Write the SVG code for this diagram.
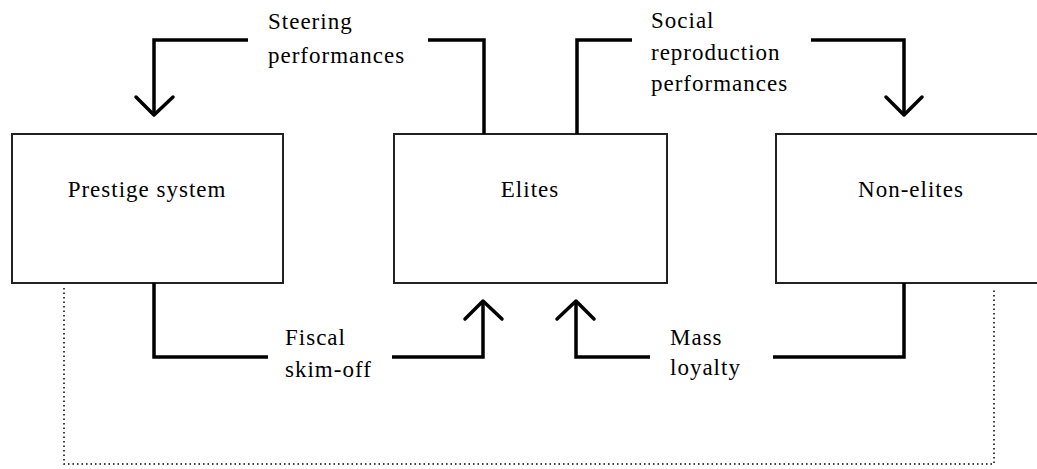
<svg xmlns="http://www.w3.org/2000/svg" width="1037" height="469" viewBox="0 0 1037 469">
<style>
.box{fill:#fff;stroke:#222;stroke-width:2}
.lbl{font-family:'Liberation Serif','Times New Roman',serif;font-size:23px;fill:#000;letter-spacing:1px}
.c{text-anchor:middle}
.con{fill:none;stroke:#000;stroke-width:3.5;stroke-linejoin:miter}
.head{fill:none;stroke:#000;stroke-width:3.5;stroke-linecap:round;stroke-linejoin:round}
.dot{fill:none;stroke:#000;stroke-width:1.5;stroke-dasharray:1.5 3}
</style>
<rect width="1037" height="469" fill="#fff"/>
<g id="node-prestige">
<rect class="box" x="12" y="134" width="271" height="149"/>
<text class="lbl c" x="147" y="197">Prestige system</text>
</g>
<g id="node-elites">
<rect class="box" x="394" y="134" width="273" height="149"/>
<text class="lbl c" x="530" y="197">Elites</text>
</g>
<g id="node-nonelites">
<rect class="box" x="776" y="134" width="272" height="149"/>
<text class="lbl c" x="911" y="197">Non-elites</text>
</g>
<g id="connectors">
<polyline class="con" points="248,40 154,40 154,115"/>
<polyline class="head" points="136,97 154,115 173,97"/>
<polyline class="con" points="428,40 484,40 484,134"/>
<text class="lbl" x="268" y="29">Steering</text>
<text class="lbl" x="268" y="63">performances</text>

<polyline class="con" points="577,134 577,40 632,40"/>
<polyline class="con" points="811,40 904,40 904,115"/>
<polyline class="head" points="886,97 904,115 922,97"/>
<text class="lbl" x="651" y="28">Social</text>
<text class="lbl" x="651" y="60">reproduction</text>
<text class="lbl" x="651" y="91">performances</text>

<polyline class="con" points="154,283 154,357 268,357"/>
<polyline class="con" points="392,357 483,357 483,301"/>
<polyline class="head" points="465,319 483,301 502,319"/>
<text class="lbl" x="285" y="345">Fiscal</text>
<text class="lbl" x="285" y="377">skim-off</text>

<polyline class="con" points="904,283 904,357 773,357"/>
<polyline class="con" points="650,357 576,357 576,301"/>
<polyline class="head" points="557,319 576,301 594,319"/>
<text class="lbl" x="670" y="345">Mass</text>
<text class="lbl" x="670" y="375">loyalty</text>

<polyline class="dot" points="64,288 64,464 994,464 994,288"/>
</g>
</svg>
